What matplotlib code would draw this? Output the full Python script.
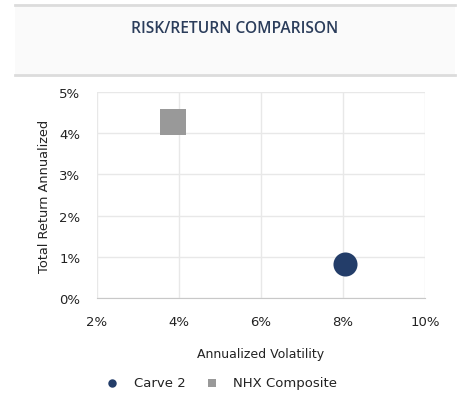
import matplotlib.pyplot as plt
from matplotlib.patches import Rectangle
from matplotlib.lines import Line2D
from matplotlib.ticker import FuncFormatter

# data
names = ["Carve 2", "NHX Composite"]
volatility = [8.05, 3.85]
returns = [0.82, 4.27]
colors = ["#233d69", "#999999"]
markers = ["o", "s"]
sizes = [300, 330]

W, H = 461, 406
fig = plt.figure(figsize=(W / 100, H / 100), dpi=100, facecolor="white")

# header band
fig.patches.append(Rectangle((15 / W, 1 - 76 / H), 440 / W, 71 / H, transform=fig.transFigure,
                             facecolor="#fafafa", edgecolor="none", zorder=0))
for yy in (6, 76):
    fig.add_artist(Line2D([15 / W, 455 / W], [1 - yy / H, 1 - yy / H], color="#dcdcdc", lw=2))
fig.text(235 / W, 1 - 29 / H, "RISK/RETURN COMPARISON", ha="center", va="center",
         fontsize=11.2, fontweight="semibold", family="Open Sans", color="#2b3d5b")

ax = fig.add_axes([97 / W, 1 - 299 / H, 328 / W, 206 / H])
for n, x, y, c, m, s in zip(names, volatility, returns, colors, markers, sizes):
    ax.scatter(x, y, s=s, c=c, marker=m, linewidths=0, zorder=3, label=n)

ax.set_xlim(2, 10)
ax.set_ylim(0, 5)
ax.set_xticks([2, 4, 6, 8, 10])
ax.set_yticks([0, 1, 2, 3, 4, 5])
pct = FuncFormatter(lambda v, p: f"{v:.0f}%")
ax.xaxis.set_major_formatter(pct)
ax.yaxis.set_major_formatter(pct)
ax.grid(True, color="#e8e8e8", lw=1)
ax.set_axisbelow(True)
for side in ("top", "right", "left"):
    ax.spines[side].set_visible(False)
ax.spines["bottom"].set_color("#c8c8c8")
ax.tick_params(length=0, labelsize=9.5, colors="#222222")
ax.tick_params(axis="x", pad=12)
ax.tick_params(axis="y", pad=12)
ax.set_xlabel("Annualized Volatility", fontsize=9, color="#222222", labelpad=14)
ax.set_ylabel("Total Return Annualized", fontsize=9.3, color="#222222", labelpad=6)

leg = fig.legend(loc="center", bbox_to_anchor=(218 / W, 1 - 384 / H), ncol=2, frameon=False,
                 fontsize=9.5, handletextpad=0.6, columnspacing=1.0, markerscale=0.35)
for t in leg.get_texts():
    t.set_color("#222222")

fig.savefig("out.png", dpi=100, facecolor="white")
